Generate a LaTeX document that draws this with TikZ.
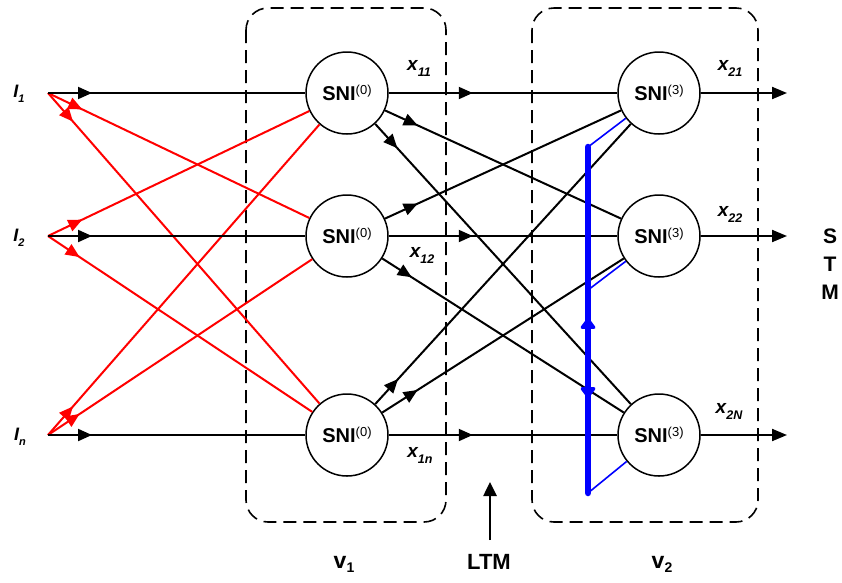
\documentclass[tikz,border=0pt]{standalone}
\usepackage{fontspec}
\setmainfont{Liberation Sans}
\usetikzlibrary{arrows.meta,decorations.markings}

\newcommand{\sublab}[5]{{\fontsize{#1}{#1}\selectfont\bfseries\itshape #2}\raisebox{-#5}{\fontsize{#3}{#3}\selectfont\bfseries\itshape #4}}
\newcommand{\snitext}[1]{{\fontsize{20}{20}\selectfont\bfseries SNI}\raisebox{5.5pt}{\fontsize{13}{13}\selectfont (#1)}}

\tikzset{
  neuron/.style={circle,draw,line width=1.5pt,minimum size=82pt,inner sep=0pt,fill=white},
  conn/.style={line width=2pt,black},
  redconn/.style={line width=2pt,red},
  tipat/.style={postaction={decorate},decoration={markings,mark=at position #1 with {\arrow{Triangle[length=14pt,width=12pt]}}}},
  outarrow/.style={line width=2pt,-{Triangle[length=15pt,width=12pt]}},
  module/.style={draw,dash pattern=on 13pt off 7pt,line width=1.6pt,rounded corners=22pt},
  lbl/.style={inner sep=0pt},
}

\begin{document}
\begin{tikzpicture}[x=1pt,y=-1pt]
\useasboundingbox (0,0) rectangle (842,582);

% module boxes
\draw[module] (246,8) rectangle (446,522);
\draw[module] (532,8) rectangle (758,522);

% input points
\coordinate (i1) at (48,93);
\coordinate (i2) at (48,236);
\coordinate (i3) at (48,435);

% neurons
\node[neuron] (a1) at (347,93) {\snitext{0}};
\node[neuron] (a2) at (347,236) {\snitext{0}};
\node[neuron] (a3) at (347,435) {\snitext{0}};
\node[neuron] (b1) at (659,93) {\snitext{3}};
\node[neuron] (b2) at (659,236) {\snitext{3}};
\node[neuron] (b3) at (659,435) {\snitext{3}};

% output points
\coordinate (o1) at (787,93);
\coordinate (o2) at (787,236);
\coordinate (o3) at (787,435);

% red cross inputs
\draw[redconn,tipat=38pt] (i1) -- (a2);
\draw[redconn,tipat=38pt] (i1) -- (a3);
\draw[redconn,tipat=38pt] (i2) -- (a1);
\draw[redconn,tipat=38pt] (i2) -- (a3);
\draw[redconn,tipat=38pt] (i3) -- (a1);
\draw[redconn,tipat=38pt] (i3) -- (a2);

% direct inputs
\draw[conn,tipat=44pt] (i1) -- (a1);
\draw[conn,tipat=44pt] (i2) -- (a2);
\draw[conn,tipat=44pt] (i3) -- (a3);

% layer connections
\draw[conn,tipat=84pt] (a1) -- (b1);
\draw[conn,tipat=84pt] (a2) -- (b2);
\draw[conn,tipat=84pt] (a3) -- (b3);
\draw[conn,tipat=36pt] (a1) -- (b2);
\draw[conn,tipat=33pt] (a1) -- (b3);
\draw[conn,tipat=36pt] (a2) -- (b1);
\draw[conn,tipat=35pt] (a2) -- (b3);
\draw[conn,tipat=34pt] (a3) -- (b1);
\draw[conn,tipat=42pt] (a3) -- (b2);

% outputs
\draw[outarrow] (b1) -- (o1);
\draw[outarrow] (b2) -- (o2);
\draw[outarrow] (b3) -- (o3);

% blue lateral
\coordinate (bt) at (588,147);
\coordinate (bm) at (588,290);
\coordinate (bb) at (588,493);
\draw[blue,line width=1.6pt] (bt) -- (b1);
\draw[blue,line width=1.6pt] (bm) -- (b2);
\draw[blue,line width=1.6pt] (bb) -- (b3);
\draw[blue,line width=6.5pt,line cap=round,postaction={decorate},decoration={markings,
  mark=at position 171pt with {\arrowreversed{Triangle[length=12pt,width=17pt,round]}},
  mark=at position 251pt with {\arrow{Triangle[length=12pt,width=17pt,round]}}}] (bt) -- (bb);

% input labels
\node[lbl] (l1) at (19,94) {\sublab{18}{I}{11}{1}{5pt}};
\node[lbl] (l2) at (19,238) {\sublab{18}{I}{11}{2}{5pt}};
\node[lbl] (l3) at (20,437) {\sublab{18}{I}{11}{n}{5pt}};

% x labels
\node[lbl] (x11) at (419,68) {\sublab{19}{x}{12.5}{11}{6pt}};
\node[lbl] (x12) at (422,255) {\sublab{19}{x}{12.5}{12}{6pt}};
\node[lbl] (x1n) at (420,455) {\sublab{19}{x}{12.5}{1n}{6pt}};
\node[lbl] (x21) at (730,68) {\sublab{19}{x}{12.5}{21}{6pt}};
\node[lbl] (x22) at (730,214) {\sublab{19}{x}{12.5}{22}{6pt}};
\node[lbl] (x2N) at (729,411) {\sublab{19}{x}{12.5}{2N}{6pt}};

% STM
\node[lbl,align=center,font=\fontsize{21}{28}\selectfont\bfseries] (stm) at (830,264) {S\\T\\M};

% LTM
\coordinate (ltmbase) at (490,540);
\node[lbl,font=\fontsize{22}{22}\selectfont\bfseries] (ltm) at (489,562) {LTM};
\draw[line width=2.6pt,-{Triangle[length=14pt,width=13pt]}] (ltmbase) -- (490,482);

% module labels
\node[lbl] (v1) at (344,564) {{\fontsize{23}{23}\selectfont\bfseries v}\raisebox{-4pt}{\fontsize{14}{14}\selectfont\bfseries 1}};
\node[lbl] (v2) at (662,564) {{\fontsize{23}{23}\selectfont\bfseries v}\raisebox{-4pt}{\fontsize{14}{14}\selectfont\bfseries 2}};
\end{tikzpicture}
\end{document}
